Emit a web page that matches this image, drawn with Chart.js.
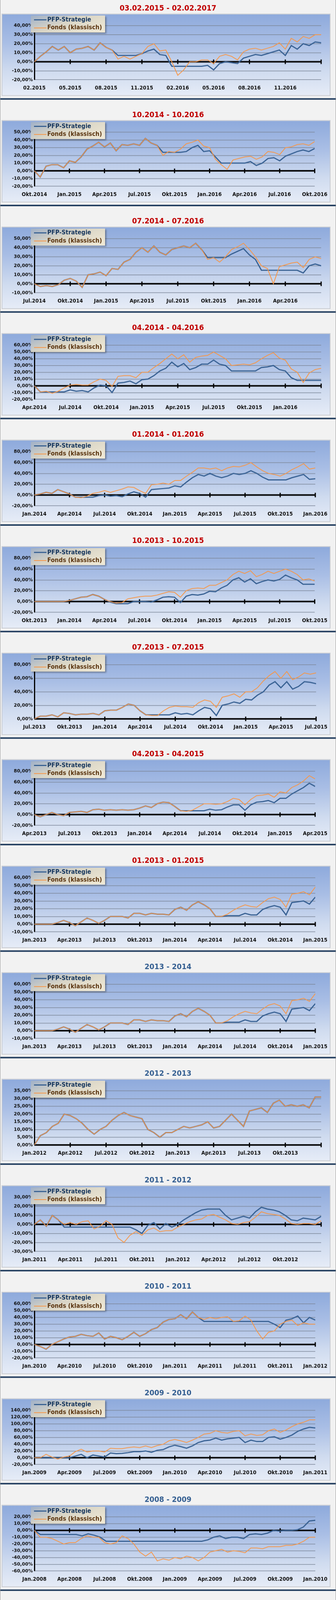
<!DOCTYPE html>
<html><head><meta charset="utf-8">
<script src="https://cdn.jsdelivr.net/npm/chart.js@4.4.1/dist/chart.umd.min.js"></script>
<style>
html,body{margin:0;padding:0;background:#f2f2f2;overflow:hidden;}
#root{width:858px;height:4232px;border-left:1px solid #9a9a9a;border-right:1px solid #9a9a9a;padding-top:4px;box-sizing:content-box;
 font-family:"Liberation Sans Narrow","DejaVu Sans Condensed",sans-serif;transform-origin:0 0;}
.panel{position:relative;height:282px;}
.title{height:32px;line-height:34px;text-align:center;font-size:20px;font-weight:bold;}
.box{position:absolute;left:3px;top:32px;width:838px;height:214px;border:2px solid #c9ccd2;
 background:linear-gradient(to bottom,#8eaadc 0%,#a9bee5 35%,#cfdbef 70%,#e6ecf7 100%);}
.box canvas{position:absolute;left:0;top:0;}
.legend{position:absolute;left:73px;top:3px;width:190px;height:45px;
 background:linear-gradient(160deg,#9fb0c8 0%,#d9d5c6 45%,#f1ead6 100%);box-shadow:3px 3px 4px rgba(0,0,0,.35);
 font-size:16px;font-weight:bold;z-index:2;}
.legend div{height:21px;line-height:22px;padding-left:8px;white-space:nowrap;}
.legend span.l{display:inline-block;width:32px;vertical-align:middle;margin-right:2px;}
.sep{position:absolute;left:0;top:256px;width:858px;height:4px;background:#243f60;}
</style></head><body>
<div id="root"></div>
<script>
// ---- data (values in %, equally spaced over the 24-month window) ----
const p1Ticks=["02.2015","05.2015","08.2015","11.2015","02.2016","05.2016","08.2016","11.2016",""];
const p1Orange=[0,6,11,17,13,17,10,14,15,17,13,21,16,13,3,6,3,6,9,17,20,12,13,0,-15,-9,0,0,2,2,-2,6,8,6,2,11,14,15,13,15,17,21,14,26,22,28,26,30,30];
const p1Blue=[0,6,11,17,13,17,10,14,15,17,13,21,16,13,7,7,7,7,9,12,14,8,7,-5,-5,-5,-5,-5,-5,-4,-9,-2,0,-1,-2,4,6,8,7,9,11,13,7,18,14,20,18,22,21];

const p2Ticks=["Okt.2014","Jan.2015","Apr.2015","Jul.2015","Okt.2015","Jan.2016","Apr.2016","Jul.2016","Okt.2016"];
const p2Orange=[0,-8,6,8,8,4,13,11,18,28,32,37,31,36,26,34,33,35,33,42,36,33,20,25,24,28,35,37,40,32,30,15,8,2,14,16,18,19,15,18,25,24,21,30,31,34,35,33,38];
const p2Blue=[0,-8,6,8,8,4,13,11,18,28,32,37,31,36,26,34,33,35,33,42,36,33,24,24,24,24,25,30,33,25,26,18,10,10,10,10,10,12,7,10,16,17,13,19,22,25,27,25,29];

const p3Ticks=["Jul.2014","Okt.2014","Jan.2015","Apr.2015","Jul.2015","Okt.2015","Jan.2016","Apr.2016",""];
const p3Orange=[0,-3,-2,-3,-1,4,6,3,-4,10,11,13,9,17,16,24,27,35,40,35,42,35,32,38,40,42,40,45,38,27,29,24,30,38,41,45,38,30,20,17,0,19,21,23,24,18,27,30,28];
const p3Blue=[0,-3,-2,-3,-1,4,6,3,-4,10,11,13,9,17,16,24,27,35,40,35,42,35,32,38,40,42,40,45,38,29,29,29,29,33,36,39,32,27,15,15,15,15,15,15,15,12,20,22,20];

const p4Ticks=["Apr.2014","Jul.2014","Okt.2014","Jan.2015","Apr.2015","Jul.2015","Okt.2015","Jan.2016",""];
const p4Orange=[0,-9,-8,-11,-8,-3,1,2,1,1,6,10,8,-1,14,15,15,12,20,20,27,33,40,47,40,46,35,42,44,45,50,45,40,30,31,32,31,34,40,45,49,41,38,25,20,5,19,24,26];
const p4Blue=[0,-9,-9,-9,-9,-9,-6,-8,-7,-9,-3,1,0,-10,4,5,7,3,9,10,15,22,26,35,28,33,24,27,32,32,38,32,30,22,22,22,22,22,27,28,30,24,22,12,8,8,8,8,8];

const p5Ticks=["Jan.2014","Apr.2014","Jul.2014","Okt.2014","Jan.2015","Apr.2015","Jul.2015","Okt.2015","Jan.2016"];
const p5Orange=[0,2,5,3,10,6,2,-4,-5,-2,3,5,8,5,8,11,15,14,8,3,19,20,22,20,27,27,35,42,50,50,48,50,45,50,53,52,55,60,52,45,40,38,35,40,47,52,58,48,50];
const p5Blue=[0,2,5,3,10,6,2,-4,-4,-4,-4,-1,0,-2,-1,-3,2,6,3,-4,10,11,12,13,17,15,24,32,38,35,40,35,32,35,40,38,40,45,40,33,28,28,28,28,32,35,38,29,30];

const p6Ticks=["Okt.2013","Jan.2014","Apr.2014","Jul.2014","Okt.2014","Jan.2015","Apr.2015","Jul.2015","Okt.2015"];
const p6Orange=[0,0,0,0,0,0,2,5,8,9,13,10,4,0,-3,-2,5,7,9,10,10,12,15,18,17,8,20,24,25,24,30,30,35,40,50,56,52,57,46,50,56,52,56,60,56,50,40,42,38];
const p6Blue=[0,0,0,0,0,0,2,5,8,9,13,10,4,-1,-4,-4,-4,0,0,0,-1,3,8,9,8,-2,10,13,12,14,19,18,25,30,40,44,36,42,33,37,40,38,41,49,44,40,32,32,32];

const p7Ticks=["Jul.2013","Okt.2013","Jan.2014","Apr.2014","Jul.2014","Okt.2014","Jan.2015","Apr.2015","Jul.2015"];
const p7Orange=[0,4,4,6,3,9,8,6,7,7,8,6,12,13,13,17,22,20,12,6,5,5,12,17,19,18,18,17,24,28,26,17,32,34,37,32,40,40,46,56,64,70,60,70,58,62,68,66,68];
const p7Blue=[0,4,4,6,3,9,8,6,7,7,8,6,12,13,13,17,22,20,12,6,6,6,6,6,9,7,8,6,12,17,15,5,20,22,25,23,29,28,35,40,50,55,46,55,44,48,55,54,52];

const p8Ticks=["Apr.2013","Jul.2013","Okt.2013","Jan.2014","Apr.2014","Jul.2014","Okt.2014","Jan.2015","Apr.2015"];
const p8Orange=[0,-4,0,4,0,-2,4,5,6,4,9,10,8,9,8,9,8,9,12,16,13,20,23,22,15,7,6,8,14,20,20,19,20,24,30,28,18,28,35,36,38,32,42,40,50,55,62,72,66];
const p8Blue=[0,-4,0,4,0,-2,4,5,6,4,9,10,8,9,8,9,8,9,12,16,13,20,23,22,15,7,7,7,7,7,10,8,9,14,18,18,8,18,23,24,26,22,30,30,38,44,50,58,52];

const p9Ticks=["Jan.2013","Apr.2013","Jul.2013","Okt.2013","Jan.2014","Apr.2014","Jul.2014","Okt.2014","Jan.2015"];
const p9Orange=[0,0,0,0,2,5,2,-2,3,8,5,1,5,10,10,10,8,14,14,12,14,13,13,12,19,22,18,25,29,25,20,10,10,13,18,22,25,23,22,28,33,35,32,22,39,40,42,38,48];
const p9Blue=[0,0,0,0,2,5,2,-2,3,8,5,1,5,10,10,10,8,14,14,12,14,13,13,12,19,22,18,25,29,25,20,10,10,11,11,11,14,12,12,19,22,24,22,12,28,29,30,26,35];

const p10Ticks=["Jan.2013","Apr.2013","Jul.2013","Okt.2013","Jan.2014","Apr.2014","Jul.2014","Okt.2014","Jan.2015"];
const p10Orange=[0,0,0,0,2,5,2,-2,3,8,5,1,5,10,10,10,8,14,14,12,14,13,13,12,19,22,18,25,29,25,20,10,10,13,18,22,25,23,22,28,33,35,32,22,39,40,42,38,48];
const p10Blue=[0,0,0,0,2,5,2,-2,3,8,5,1,5,10,10,10,8,14,14,12,14,13,13,12,19,22,18,25,29,25,20,10,10,11,11,11,14,12,12,19,22,24,22,12,28,29,30,26,35];

const p11Ticks=["Jan.2012","Apr.2012","Jul.2012","Okt.2012","Jan.2013","Apr.2013","Jul.2013","Okt.2013",""];
const p11Orange=[0,6,8,12,14,20,19,17,14,10,7,10,12,16,19,21,19,18,17,10,8,5,8,8,10,12,11,12,13,15,11,12,16,20,16,12,22,23,24,21,27,29,25,26,25,26,24,31,31];
const p11Blue=[0,6,8,12,14,20,19,17,14,10,7,10,12,16,19,21,19,18,17,10,8,5,8,8,10,12,11,12,13,15,11,12,16,20,16,12,22,23,24,21,27,29,25,26,25,26,24,31,31];

const p12Ticks=["Jan.2011","Apr.2011","Jul.2011","Okt.2011","Jan.2012","Apr.2012","Jul.2012","Okt.2012",""];
const p12Orange=[0,5,-2,10,5,0,2,0,3,4,-5,-2,4,0,-15,-20,-12,-8,-12,-6,-4,-8,-7,-7,-3,0,3,5,6,10,11,8,5,1,0,2,3,8,14,12,11,10,6,1,0,1,1,0,4];
const p12Blue=[0,5,-2,10,5,-3,-3,-3,-3,-3,-3,-3,-3,-3,-3,-3,-3,-6,-10,-1,2,-5,1,-3,0,5,9,13,16,17,17,17,10,5,7,9,7,14,19,17,16,14,10,5,4,7,6,5,9];

const p13Ticks=["Jan.2010","Apr.2010","Jul.2010","Okt.2010","Jan.2011","Apr.2011","Jul.2011","Okt.2011","Jan.2012"];
const p13Orange=[0,-3,-7,0,4,8,11,12,15,13,12,17,8,12,10,7,12,18,12,16,22,25,33,37,38,44,38,48,40,37,40,38,40,41,34,35,42,36,20,8,18,20,30,34,36,28,32,30,30];
const p13Blue=[0,-3,-7,0,4,8,11,12,15,13,12,17,8,12,10,7,12,18,12,16,22,25,33,37,38,44,38,48,40,34,34,34,34,34,34,34,34,34,34,34,34,30,25,36,38,42,32,40,36];

const p14Ticks=["Jan.2009","Apr.2009","Jul.2009","Okt.2009","Jan.2010","Apr.2010","Jul.2010","Okt.2010","Jan.2011"];
const p14Orange=[0,0,10,2,-4,2,5,18,25,17,20,20,17,28,27,27,30,32,30,35,30,36,40,50,54,50,45,52,60,70,72,80,75,73,78,80,65,70,66,68,80,85,75,82,92,100,105,112,112];
const p14Blue=[0,0,0,0,0,0,0,5,10,0,8,5,2,14,12,13,15,18,18,20,16,22,24,32,37,33,28,35,45,50,52,58,52,56,58,60,45,52,48,48,60,62,55,60,67,78,85,90,88];

const p15Ticks=["Jan.2008","Apr.2008","Jul.2008","Okt.2008","Jan.2009","Apr.2009","Jul.2009","Okt.2009","Jan.2010"];
const p15Orange=[0,-10,-10,-12,-16,-20,-18,-18,-12,-8,-10,-10,-18,-20,-18,-8,-12,-20,-32,-38,-32,-45,-42,-44,-40,-42,-38,-40,-45,-40,-32,-30,-28,-32,-30,-31,-33,-26,-26,-27,-24,-24,-24,-22,-22,-20,-16,-10,-10];
const p15Blue=[0,-6,-6,-6,-6,-6,-6,-6,-8,-5,-7,-10,-16,-16,-16,-16,-16,-16,-16,-16,-16,-16,-16,-16,-16,-16,-16,-16,-16,-14,-10,-8,-12,-10,-10,-12,-6,-5,-6,-4,0,-1,0,0,1,5,14,15];

const RED="#c00000", BLUE_T="#366092";
const panels=[
 {title:"03.02.2015 - 02.02.2017",color:RED,min:-20,max:40,step:10,ticks:p1Ticks,o:p1Orange,b:p1Blue},
 {title:"10.2014 - 10.2016",color:RED,min:-20,max:50,step:10,ticks:p2Ticks,o:p2Orange,b:p2Blue},
 {title:"07.2014 - 07.2016",color:RED,min:-10,max:50,step:10,ticks:p3Ticks,o:p3Orange,b:p3Blue},
 {title:"04.2014 - 04.2016",color:RED,min:-20,max:60,step:10,ticks:p4Ticks,o:p4Orange,b:p4Blue},
 {title:"01.2014 - 01.2016",color:RED,min:-20,max:80,step:20,ticks:p5Ticks,o:p5Orange,b:p5Blue},
 {title:"10.2013 - 10.2015",color:RED,min:-20,max:80,step:20,ticks:p6Ticks,o:p6Orange,b:p6Blue},
 {title:"07.2013 - 07.2015",color:RED,min:0,max:80,step:20,ticks:p7Ticks,o:p7Orange,b:p7Blue},
 {title:"04.2013 - 04.2015",color:RED,min:-20,max:80,step:20,ticks:p8Ticks,o:p8Orange,b:p8Blue},
 {title:"01.2013 - 01.2015",color:RED,min:-10,max:60,step:10,ticks:p9Ticks,o:p9Orange,b:p9Blue},
 {title:"2013 - 2014",color:BLUE_T,min:-10,max:60,step:10,ticks:p10Ticks,o:p10Orange,b:p10Blue},
 {title:"2012 - 2013",color:BLUE_T,min:0,max:35,step:5,ticks:p11Ticks,o:p11Orange,b:p11Blue},
 {title:"2011 - 2012",color:BLUE_T,min:-30,max:30,step:10,ticks:p12Ticks,o:p12Orange,b:p12Blue},
 {title:"2010 - 2011",color:BLUE_T,min:-20,max:60,step:10,ticks:p13Ticks,o:p13Orange,b:p13Blue},
 {title:"2009 - 2010",color:BLUE_T,min:-20,max:140,step:20,ticks:p14Ticks,o:p14Orange,b:p14Blue},
 {title:"2008 - 2009",color:BLUE_T,min:-60,max:20,step:10,ticks:p15Ticks,o:p15Orange,b:p15Blue},
];

const FONT='"Liberation Sans Narrow","DejaVu Sans Condensed",sans-serif';
const toXY=a=>a.map((v,i)=>({x:i*24/(a.length-1),y:v}));

const zeroAxis={id:'zeroAxis',beforeDatasetsDraw(c){
  const x=c.scales.x,y=c.scales.y,ctx=c.ctx,y0=y.getPixelForValue(0);
  ctx.save();ctx.strokeStyle='#000';ctx.lineWidth=4;
  ctx.beginPath();ctx.moveTo(x.left,y0);ctx.lineTo(x.right,y0);ctx.stroke();
  ctx.lineWidth=3;
  for(let m=3;m<=24;m+=3){const px=x.getPixelForValue(m);ctx.beginPath();ctx.moveTo(px,y0-6);ctx.lineTo(px,y0+6);ctx.stroke();}
  ctx.restore();}};

const root=document.getElementById('root');
// the window is shorter than the reference page: fit the whole page into it
const fit=Math.min(1,window.innerHeight/4236);
root.style.transform='scaleY('+fit+')';

panels.forEach((p,k)=>{
  const d=document.createElement('div');d.className='panel';
  d.innerHTML=`<div class="title" style="color:${p.color}">${p.title}</div>
  <div class="box"><div class="legend"><div style="color:#17375e"><span class="l" style="border-top:3px solid #376092"></span>PFP-Strategie</div>
  <div style="color:#5b3510"><span class="l" style="border-top:2px solid #f79646"></span>Fonds (klassisch)</div></div>
  <canvas width="838" height="214"></canvas></div><div class="sep"></div>`;
  root.appendChild(d);
  const cv=d.querySelector('canvas');
  new Chart(cv,{type:'line',
   data:{datasets:[
    {label:'Fonds (klassisch)',data:toXY(p.o),borderColor:'#f79646',borderWidth:2,pointRadius:0,tension:0,order:0},
    {label:'PFP-Strategie',data:toXY(p.b),borderColor:'#376092',borderWidth:3,pointRadius:0,tension:0,order:1}]},
   options:{responsive:false,animation:false,events:[],
    layout:{padding:{left:2,right:22,top:30,bottom:4}},
    plugins:{legend:{display:false},tooltip:{enabled:false}},
    scales:{
     x:{type:'linear',min:0,max:24,
        ticks:{stepSize:3,autoSkip:false,maxRotation:0,color:'#111',font:{family:FONT,size:14,weight:'bold'},padding:6,
          callback:v=>(v%3===0?(p.ticks[v/3]||''):'')},
        grid:{display:false},border:{display:false}},
     y:{min:p.min,max:p.max,
        afterFit:s=>{s.width=80;},
        ticks:{stepSize:p.step,autoSkip:false,color:'#111',font:{family:FONT,size:13,weight:'bold'},padding:4,
          callback:v=>v.toFixed(2).replace('.',',')+'%'},
        grid:{color:'#7d8799',lineWidth:1.5,drawTicks:false},
        border:{display:true,color:'#000',width:3}}}},
   plugins:[zeroAxis]});
});
</script></body></html>
